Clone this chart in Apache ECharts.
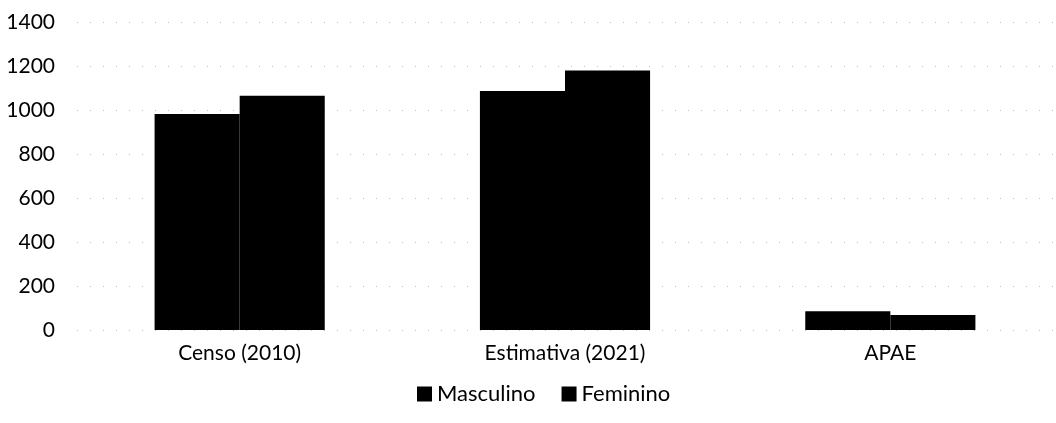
<!DOCTYPE html>
<html>
<head>
<meta charset="utf-8">
<script src="https://cdn.jsdelivr.net/npm/echarts@6/dist/echarts.min.js"></script>
<style>
  html, body { margin: 0; padding: 0; background: #fff; }
  #chart { width: 1056px; height: 423px; }
</style>
</head>
<body>
<div id="chart"></div>
<script>
    var categories = ['Censo (2010)', 'Estimativa (2021)', 'APAE'];
    var masculino = [982, 1086, 85];
    var feminino = [1065, 1179, 68];
    var yTicks = [0, 200, 400, 600, 800, 1000, 1200, 1400];

    var chart = echarts.init(document.getElementById('chart'));
    var font = 'Lato, "Open Sans", sans-serif';
    chart.setOption({
        animation: false,
        textStyle: { fontFamily: font },
        grid: { left: 77, right: 3, top: 22, bottom: 93 },
        legend: {
            bottom: 13,
            left: 412,
            itemWidth: 15,
            itemHeight: 15,
            itemGap: 26,
            icon: 'rect',
            textStyle: { fontFamily: font, fontSize: 22, color: '#000' },
            data: ['Masculino', 'Feminino']
        },
        xAxis: {
            type: 'category',
            data: categories,
            axisLine: { show: false },
            axisTick: { show: false },
            axisLabel: { fontFamily: font, fontSize: 21, color: '#000', margin: 13 }
        },
        yAxis: {
            type: 'value',
            min: yTicks[0],
            max: yTicks[yTicks.length - 1],
            interval: 200,
            axisLine: { show: false },
            axisTick: { show: false },
            axisLabel: {
                fontFamily: font, fontSize: 21, color: '#000', margin: 22,
                formatter: function (v) { return String(v); }
            },
            splitLine: { lineStyle: { color: '#bbb', type: [1, 12], width: 1 } }
        },
        series: [
            {
                name: 'Masculino',
                type: 'bar',
                data: masculino,
                barGap: '0%',
                barCategoryGap: '47.7%',
                itemStyle: { color: '#000' }
            },
            {
                name: 'Feminino',
                type: 'bar',
                data: feminino,
                itemStyle: { color: '#000' }
            }
        ]
    });
</script>
</body>
</html>
